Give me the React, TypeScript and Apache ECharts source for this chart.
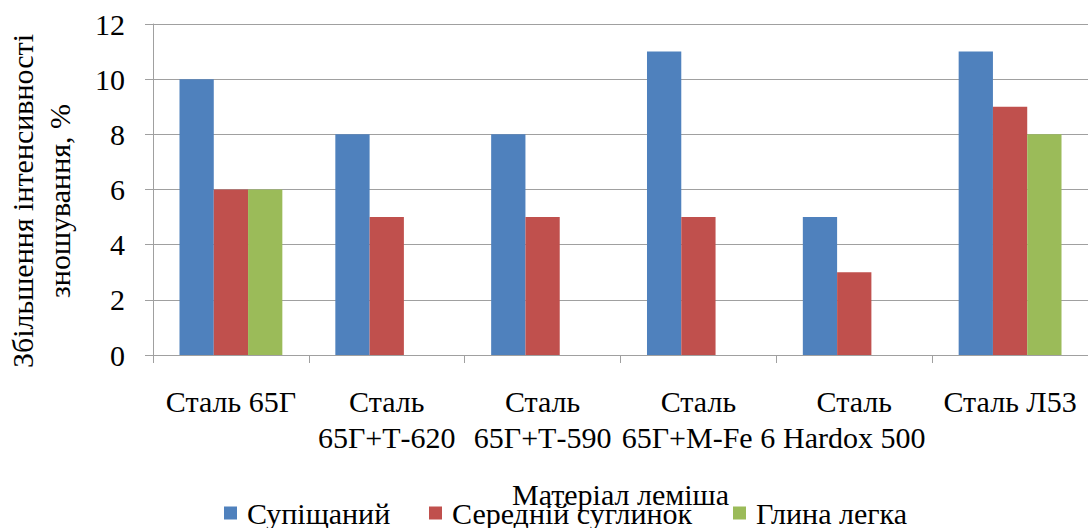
import React, { useEffect, useRef } from "react";
import * as echarts from "echarts";

const categories = [
  "Сталь 65Г",
  "Сталь\n65Г+Т-620",
  "Сталь\n65Г+Т-590",
  "Сталь\n65Г+М-Fe 6",
  "Сталь\nHardox 500",
  "Сталь Л53",
];
const seriesNames = ["Супіщаний", "Середній суглинок", "Глина легка"];
const sandyLoam = [10, 8, 8, 11, 5, 11];
const mediumLoam = [6, 5, 5, 5, 3, 9];
const lightClay = [6, 0, 0, 0, 0, 8];
const colors = ["#4F81BD", "#C0504D", "#9BBB59"];
const yTitle = "Збільшення інтенсивності\nзношування, %";
const xTitle = "Матеріал леміша";

const FONT = "Liberation Serif, Times New Roman, serif";
const FS = 30;
const legendLefts = [224, 429, 733];

export default function App() {
  const ref = useRef<HTMLDivElement>(null);
  useEffect(() => {
    document.body.style.margin = "0";
    if (!ref.current) return;
    const chart = echarts.init(ref.current, undefined, { renderer: "svg" });
    const values = [sandyLoam, mediumLoam, lightClay];
    chart.setOption({
      animation: false,
      textStyle: { fontFamily: FONT },
      grid: { left: 153, top: 24, width: 946, height: 331 },
      legend: seriesNames.map((name, i) => ({
        left: legendLefts[i],
        top: 498,
        padding: 0,
        itemWidth: 13,
        itemHeight: 13,
        icon: "rect",
        data: [name],
        textStyle: {
          fontFamily: FONT,
          fontSize: FS,
          lineHeight: 30,
          color: "#000",
          padding: [0, 0, 0, 5],
        },
      })),
      xAxis: {
        type: "category",
        data: categories,
        name: xTitle,
        nameLocation: "middle",
        nameGap: 124,
        nameTextStyle: { fontFamily: FONT, fontSize: FS, color: "#000" },
        axisLine: { show: true, lineStyle: { color: "#A0A0A0", width: 1 } },
        axisTick: { show: true, length: 8, lineStyle: { color: "#A0A0A0" } },
        axisLabel: {
          interval: 0,
          fontFamily: FONT,
          fontSize: FS,
          lineHeight: 36,
          color: "#000",
          margin: 28,
        },
      },
      yAxis: {
        type: "value",
        min: 0,
        max: 12,
        interval: 2,
        axisLine: { show: true, lineStyle: { color: "#A0A0A0", width: 1 } },
        axisTick: { show: true, length: 8, lineStyle: { color: "#A0A0A0" } },
        splitLine: { show: true, lineStyle: { color: "#A0A0A0", width: 1 } },
        axisLabel: { fontFamily: FONT, fontSize: FS, color: "#000", margin: 28 },
      },
      graphic: [
        {
          type: "text",
          x: 41,
          y: 201,
          rotation: Math.PI / 2,
          style: {
            text: yTitle,
            fontFamily: FONT,
            fontSize: FS,
            lineHeight: 37,
            fill: "#000",
            align: "center",
            verticalAlign: "middle",
          },
        },
      ],
      series: seriesNames.map((name, i) => ({
        name,
        type: "bar",
        data: values[i],
        barGap: "0%",
        barCategoryGap: "34%",
        itemStyle: { color: colors[i] },
      })),
    });
    return () => chart.dispose();
  }, []);
  return <div ref={ref} style={{ width: 1088, height: 528 }} />;
}
